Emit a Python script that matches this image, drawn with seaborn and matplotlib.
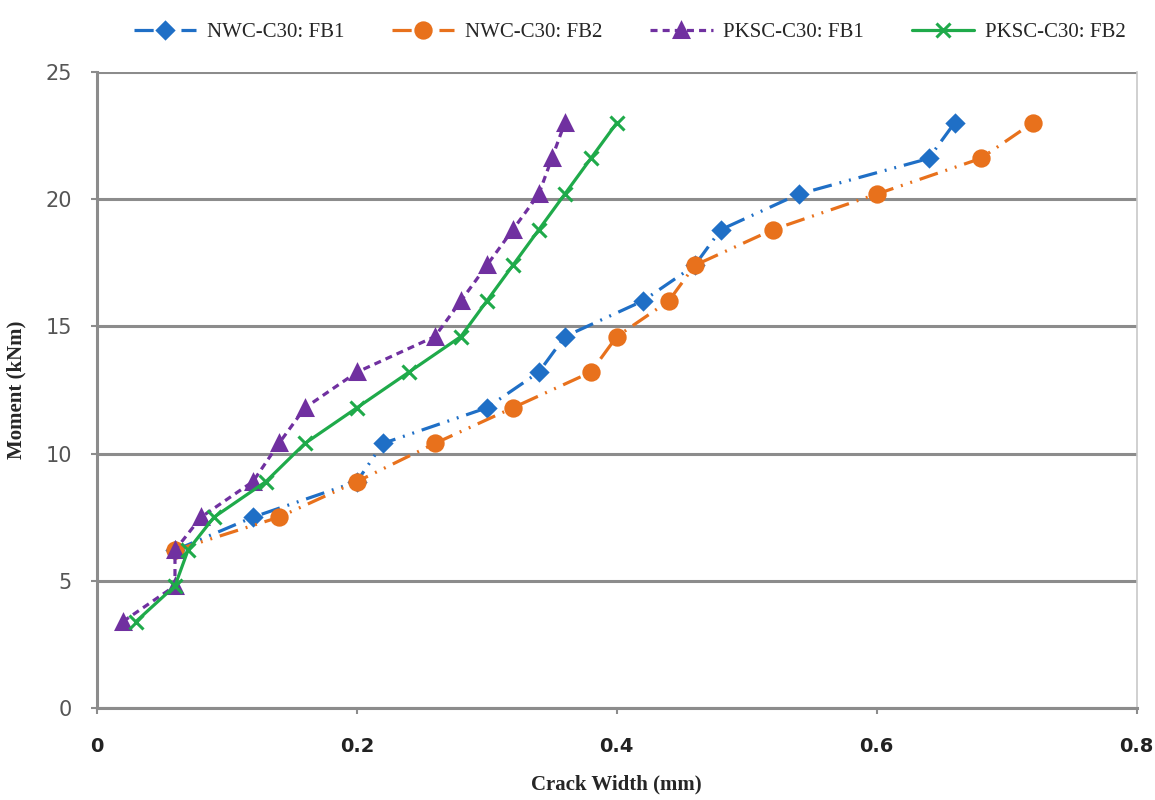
import numpy as np
import pandas as pd
import matplotlib
matplotlib.use("Agg")
import matplotlib.pyplot as plt
import seaborn as sns

sns.set_style("white")

# moment levels (kNm) for each series
moment_nwc = [6.2, 7.5, 8.9, 10.4, 11.8, 13.2, 14.6, 16.0, 17.4, 18.8, 20.2, 21.6, 23.0]
moment_pksc = [3.4, 4.8, 6.2, 7.5, 8.9, 10.4, 11.8, 13.2, 14.6, 16.0, 17.4, 18.8, 20.2, 21.6, 23.0]

# crack widths (mm)
nwc_fb1 = [0.06, 0.12, 0.20, 0.22, 0.30, 0.34, 0.36, 0.42, 0.46, 0.48, 0.54, 0.64, 0.66]
nwc_fb2 = [0.06, 0.14, 0.20, 0.26, 0.32, 0.38, 0.40, 0.44, 0.46, 0.52, 0.60, 0.68, 0.72]
pksc_fb1 = [0.02, 0.06, 0.06, 0.08, 0.12, 0.14, 0.16, 0.20, 0.26, 0.28, 0.30, 0.32, 0.34, 0.35, 0.36]
pksc_fb2 = [0.03, 0.06, 0.07, 0.09, 0.13, 0.16, 0.20, 0.24, 0.28, 0.30, 0.32, 0.34, 0.36, 0.38, 0.40]

labels = ["NWC-C30: FB1", "NWC-C30: FB2", "PKSC-C30: FB1", "PKSC-C30: FB2"]
colors = ["#1f6fc6", "#e8711c", "#7030a0", "#1faa4a"]

series = [
    (labels[0], nwc_fb1, moment_nwc, colors[0], "D", 8, (0, (6, 2.5, 0.6, 2.5, 0.6, 2.5))),
    (labels[1], nwc_fb2, moment_nwc, colors[1], "o", 11, (0, (6, 2.5, 0.6, 2.5, 0.6, 2.5))),
    (labels[2], pksc_fb1, moment_pksc, colors[2], "^", 10, (0, (2.2, 1.6))),
    (labels[3], pksc_fb2, moment_pksc, colors[3], "x", 10, "-"),
]

fig = plt.figure(figsize=(11.55, 8), dpi=100)
ax = fig.add_axes([0.084, 0.115, 0.9, 0.795])

for lab, xs, ys, col, mk, ms, ls in series:
    d = pd.DataFrame({"crack": xs, "moment": ys})
    sns.lineplot(data=d, x="crack", y="moment", sort=False, estimator=None,
                 color=col, marker=mk, markersize=ms, markeredgewidth=2.2,
                 markeredgecolor=col, linewidth=2.3, linestyle=ls, label=lab, ax=ax)

ax.set_xlim(0, 0.8)
ax.set_ylim(0, 25)
ax.set_xticks([0, 0.2, 0.4, 0.6, 0.8])
ax.set_xticklabels(["0", "0.2", "0.4", "0.6", "0.8"])
ax.set_yticks([0, 5, 10, 15, 20, 25])

ax.yaxis.grid(True, color="#8c8c8c", linewidth=2.2)
ax.xaxis.grid(False)
ax.set_axisbelow(True)
for s in ["left", "bottom"]:
    ax.spines[s].set_color("#8c8c8c")
    ax.spines[s].set_linewidth(2.2)
ax.spines["top"].set_visible(False)
ax.spines["right"].set_color("#c8c8c8")
ax.spines["right"].set_linewidth(1.2)

ax.tick_params(axis="y", labelsize=15, colors="#8c8c8c", labelcolor="#555555",
               length=4, width=1.5, left=True, pad=14)
ax.tick_params(axis="x", labelsize=14, colors="#8c8c8c", labelcolor="#222222",
               length=4, width=1.5, bottom=True, pad=17)
for t in ax.get_xticklabels():
    t.set_fontweight("bold")

ax.set_xlabel("Crack Width (mm)", fontsize=15, fontweight="bold",
              family="Liberation Serif")
ax.set_ylabel("Moment (kNm)", fontsize=15, fontweight="bold",
              family="Liberation Serif")
ax.xaxis.set_label_coords(0.5, -0.104)
ax.yaxis.set_label_coords(-0.068, 0.5)

handles, lbls = ax.get_legend_handles_labels()
ax.legend(handles, lbls, loc="upper center", bbox_to_anchor=(0.545, 0.995),
          bbox_transform=fig.transFigure, ncol=4, frameon=False,
          prop={"family": "Liberation Serif", "size": 15},
          handlelength=3.0, columnspacing=2.3, handletextpad=0.5)

fig.savefig("out.png", dpi=100)
